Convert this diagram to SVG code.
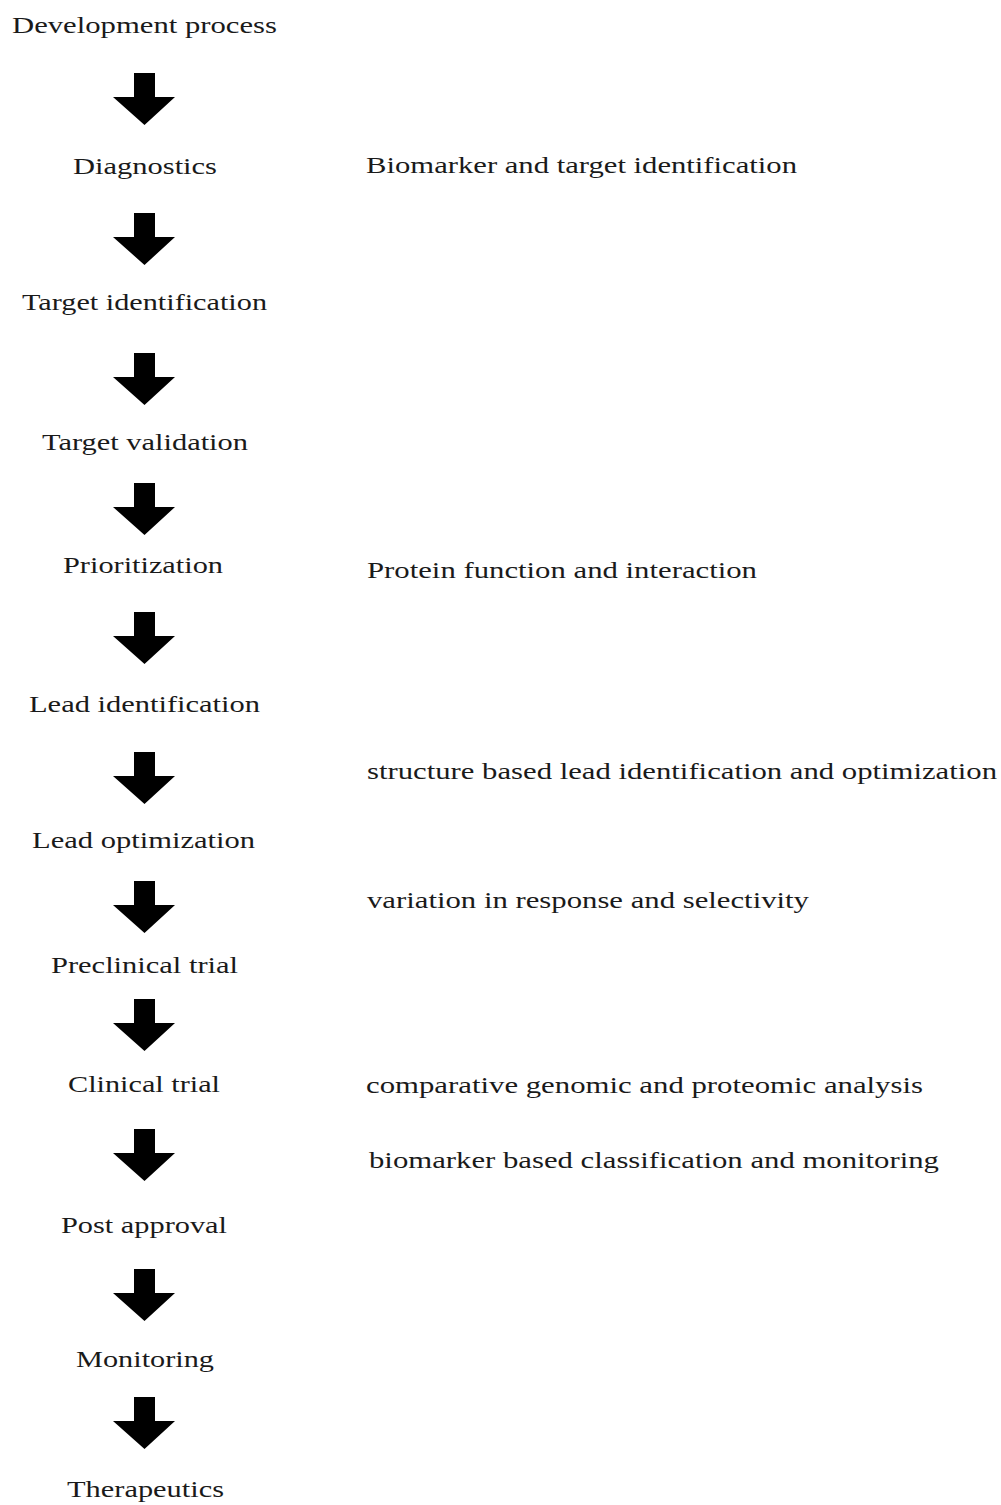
<svg xmlns="http://www.w3.org/2000/svg" xmlns:xlink="http://www.w3.org/1999/xlink" width="1001" height="1505" viewBox="0 0 1001 1505">
<style>
text{font-family:"Liberation Serif","Times New Roman",serif;font-size:23px;fill:#1a1a1a}
.arrow{fill:#000}
</style>
<defs>
<path id="arr" d="M134,0 H155 V24 H175 L144.5,52 L113,24 H134 Z"/>
</defs>
<rect width="1001" height="1505" fill="#fff"/>
<g id="connectors">
<use xlink:href="#arr" class="arrow" y="73"/>
<use xlink:href="#arr" class="arrow" y="213"/>
<use xlink:href="#arr" class="arrow" y="353"/>
<use xlink:href="#arr" class="arrow" y="483"/>
<use xlink:href="#arr" class="arrow" y="612"/>
<use xlink:href="#arr" class="arrow" y="752"/>
<use xlink:href="#arr" class="arrow" y="881"/>
<use xlink:href="#arr" class="arrow" y="999"/>
<use xlink:href="#arr" class="arrow" y="1129"/>
<use xlink:href="#arr" class="arrow" y="1269"/>
<use xlink:href="#arr" class="arrow" y="1397"/>
</g>
<g id="n-development"><text x="12" y="33" textLength="265" lengthAdjust="spacingAndGlyphs">Development process</text></g>
<g id="n-diagnostics"><text x="73" y="174" textLength="144" lengthAdjust="spacingAndGlyphs">Diagnostics</text></g>
<g id="n-target-identification"><text x="22" y="310" textLength="245" lengthAdjust="spacingAndGlyphs">Target identification</text></g>
<g id="n-target-validation"><text x="42" y="450" textLength="206" lengthAdjust="spacingAndGlyphs">Target validation</text></g>
<g id="n-prioritization"><text x="63" y="573" textLength="160" lengthAdjust="spacingAndGlyphs">Prioritization</text></g>
<g id="n-lead-identification"><text x="29" y="712" textLength="231" lengthAdjust="spacingAndGlyphs">Lead identification</text></g>
<g id="n-lead-optimization"><text x="32" y="848" textLength="223" lengthAdjust="spacingAndGlyphs">Lead optimization</text></g>
<g id="n-preclinical"><text x="51" y="973" textLength="187" lengthAdjust="spacingAndGlyphs">Preclinical trial</text></g>
<g id="n-clinical"><text x="68" y="1092" textLength="152" lengthAdjust="spacingAndGlyphs">Clinical trial</text></g>
<g id="n-post-approval"><text x="61" y="1233" textLength="166" lengthAdjust="spacingAndGlyphs">Post approval</text></g>
<g id="n-monitoring"><text x="76" y="1367" textLength="138" lengthAdjust="spacingAndGlyphs">Monitoring</text></g>
<g id="n-therapeutics"><text x="67" y="1497" textLength="157" lengthAdjust="spacingAndGlyphs">Therapeutics</text></g>
<g id="n-note-biomarker-target"><text x="366" y="173" textLength="431" lengthAdjust="spacingAndGlyphs">Biomarker and target identification</text></g>
<g id="n-note-protein"><text x="367" y="578" textLength="390" lengthAdjust="spacingAndGlyphs">Protein function and interaction</text></g>
<g id="n-note-structure"><text x="367" y="779" textLength="630" lengthAdjust="spacingAndGlyphs">structure based lead identification and optimization</text></g>
<g id="n-note-variation"><text x="367" y="908" textLength="442" lengthAdjust="spacingAndGlyphs">variation in response and selectivity</text></g>
<g id="n-note-comparative"><text x="366" y="1093" textLength="557" lengthAdjust="spacingAndGlyphs">comparative genomic and proteomic analysis</text></g>
<g id="n-note-biomarker-class"><text x="369" y="1168" textLength="570" lengthAdjust="spacingAndGlyphs">biomarker based classification and monitoring</text></g>
</svg>
